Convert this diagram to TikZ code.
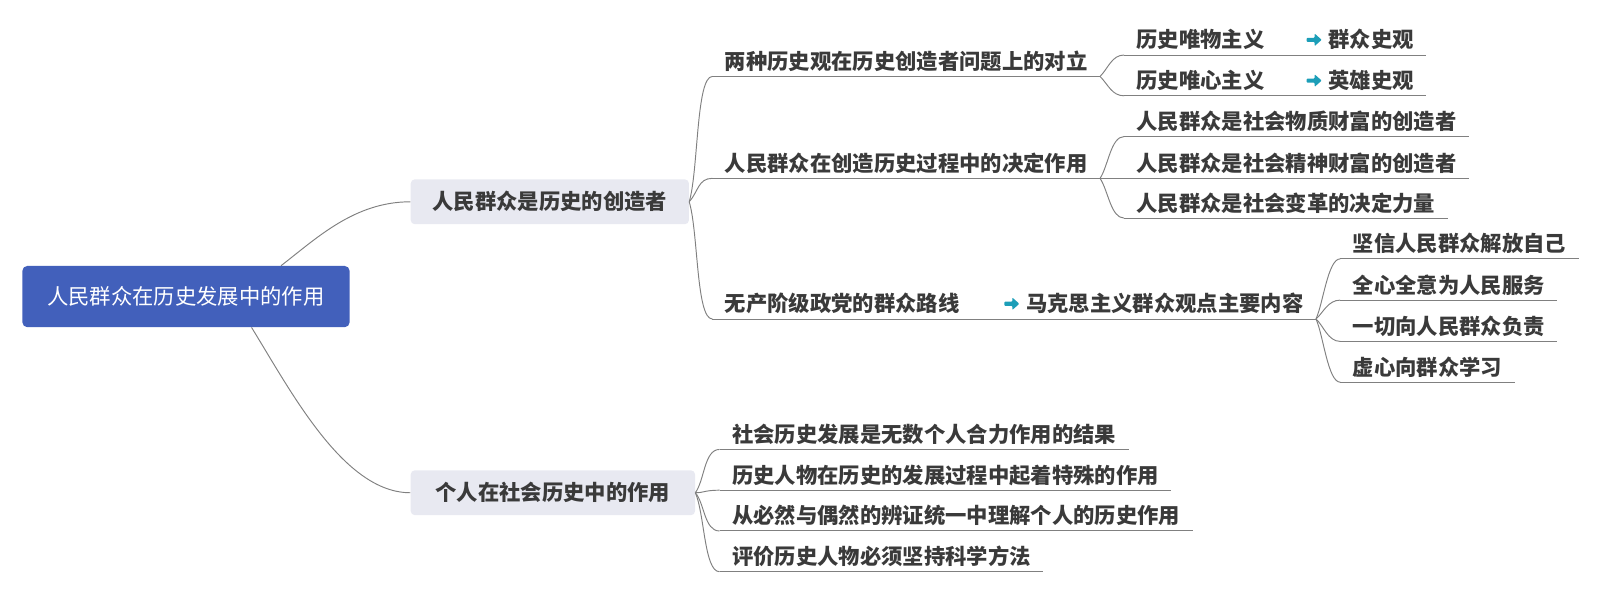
\documentclass[tikz,border=0pt]{standalone}
\usepackage{fontspec}
\setmainfont{Noto Sans CJK SC}
\usetikzlibrary{calc}
\definecolor{rootblue}{RGB}{66,96,187}
\definecolor{branchbg}{RGB}{232,233,241}
\definecolor{txt}{RGB}{58,58,58}
\definecolor{conncol}{RGB}{128,128,128}
\definecolor{arrowteal}{RGB}{28,158,184}
\newcommand{\itemarrow}{\tikz[baseline={(0pt,-6pt)}]{\fill[arrowteal, rounded corners=0.6pt] (0pt,-1.5pt) -- (5.8pt,-1.5pt) -- (5.8pt,-4.6pt) -- (11pt,0pt) -- (5.8pt,4.6pt) -- (5.8pt,1.5pt) -- (0pt,1.5pt) -- cycle;}}
\begin{document}
\begin{tikzpicture}[x=0.75pt,y=-0.75pt,
  rootbox/.style={fill=rootblue, rounded corners=3.5pt, text=white, font=\fontsize{15.7}{18}\selectfont, minimum width=240.75pt, minimum height=45pt, inner sep=0pt},
  branchbox/.style={fill=branchbg, rounded corners=3pt, text=txt, font=\fontsize{15.7}{18}\selectfont\bfseries, minimum height=33pt, inner sep=0pt},
  item/.style={anchor=south west, text=txt, font=\fontsize{15.7}{18}\selectfont\bfseries, inner xsep=9pt, inner ysep=5pt, text depth=0pt},
  uline/.style={draw=conncol, line width=0.7pt},
  link/.style={draw=conncol, line width=0.7pt},
]
\useasboundingbox (0,0) rectangle (1568,581);
% main nodes
\node[rootbox] (root) at (182.5,291) {人民群众在历史发展中的作用};
\node[branchbox, minimum width=204.75pt] (b1) at (539.5,198) {人民群众是历史的创造者};
\node[branchbox, minimum width=209.25pt] (b2) at (542.5,483.5) {个人在社会历史中的作用};
% level 2
\node[item] (A) at (699,75) {两种历史观在历史创造者问题上的对立};
\node[item] (B) at (699,175) {人民群众在创造历史过程中的决定作用};
\node[item] (C) at (699,313) {无产阶级政党的群众路线\hspace{33pt}\itemarrow\hspace{5pt}马克思主义群众观点主要内容};
% level 3 under A
\node[item] (A1) at (1103,54) {历史唯物主义\hspace{31pt}\itemarrow\hspace{5pt}群众史观};
\node[item] (A2) at (1103,94) {历史唯心主义\hspace{31pt}\itemarrow\hspace{5pt}英雄史观};
% level 3 under B
\node[item] (B1) at (1103,134) {人民群众是社会物质财富的创造者};
\node[item] (B2) at (1103,175) {人民群众是社会精神财富的创造者};
\node[item] (B3) at (1103,214) {人民群众是社会变革的决定力量};
% level 3 under C
\node[item] (C1) at (1315,254) {坚信人民群众解放自己};
\node[item] (C2) at (1315,294.5) {全心全意为人民服务};
\node[item] (C3) at (1315,335) {一切向人民群众负责};
\node[item] (C4) at (1315,375) {虚心向群众学习};
% level 2 under b2
\node[item] (D1) at (706,441) {社会历史发展是无数个人合力作用的结果};
\node[item] (D2) at (706,481) {历史人物在历史的发展过程中起着特殊的作用};
\node[item] (D3) at (706,521) {从必然与偶然的辨证统一中理解个人的历史作用};
\node[item] (D4) at (706,561) {评价历史人物必须坚持科学方法};
% underlines
\foreach \n in {A,B,C,A1,A2,B1,B2,B3,C1,C2,C3,C4,D1,D2,D3,D4}
  \draw[uline] (\n.south west) -- (\n.south east);
% connectors
\draw[link] ($(root.north west)!0.79!(root.north east)$) .. controls +(35,-27) and +(-55,0) .. (b1.west);
\draw[link] ($(root.south west)!0.70!(root.south east)$) .. controls +(40,65) and +(-65,0) .. (b2.west);
\draw[link] (b1.east) .. controls +(9,-30) and +(-16,0) .. (A.south west);
\draw[link] (b1.east) .. controls +(9,-10) and +(-14,0) .. (B.south west);
\draw[link] (b1.east) .. controls +(9,30) and +(-16,0) .. (C.south west);
\draw[link] (A.south east) .. controls +(8,-8) and +(-12,0) .. (A1.south west);
\draw[link] (A.south east) .. controls +(8,8) and +(-12,0) .. (A2.south west);
\draw[link] (B.south east) .. controls +(8,-12) and +(-13,0) .. (B1.south west);
\draw[link] (B.south east) -- (B2.south west);
\draw[link] (B.south east) .. controls +(8,12) and +(-13,0) .. (B3.south west);
\draw[link] (C.south east) .. controls +(7,-15) and +(-12,0) .. (C1.south west);
\draw[link] (C.south east) .. controls +(7,-6) and +(-12,0) .. (C2.south west);
\draw[link] (C.south east) .. controls +(7,6) and +(-12,0) .. (C3.south west);
\draw[link] (C.south east) .. controls +(7,15) and +(-12,0) .. (C4.south west);
\draw[link] (b2.east) .. controls +(9,-12) and +(-15,0) .. (D1.south west);
\draw[link] (b2.east) .. controls +(9,0) and +(-15,0) .. (D2.south west);
\draw[link] (b2.east) .. controls +(9,10) and +(-15,0) .. (D3.south west);
\draw[link] (b2.east) .. controls +(9,20) and +(-15,0) .. (D4.south west);
\end{tikzpicture}
\end{document}
